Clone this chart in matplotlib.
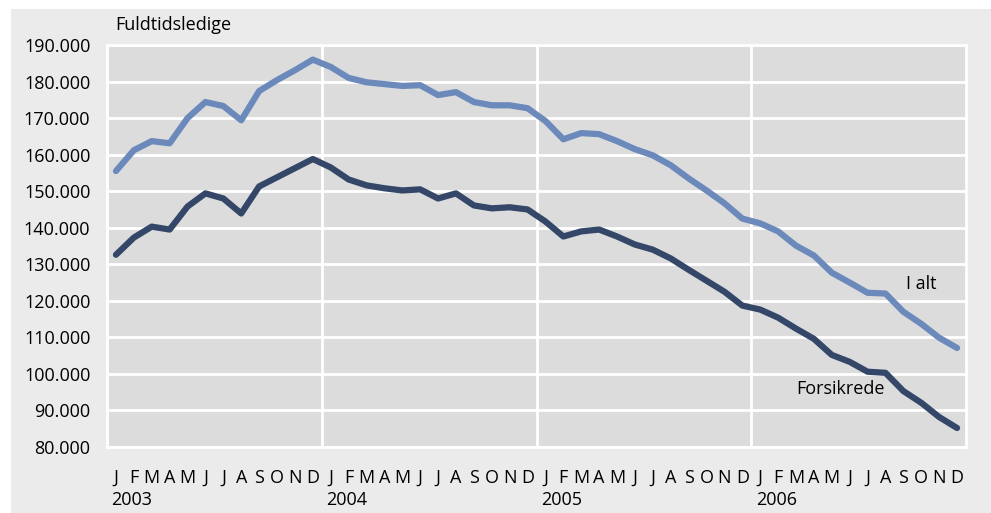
import matplotlib.pyplot as plt
import matplotlib.patches as patches
import numpy as np

plt.rcParams['font.family'] = ['Open Sans', 'DejaVu Sans']

months = ['J', 'F', 'M', 'A', 'M', 'J', 'J', 'A', 'S', 'O', 'N', 'D']
years = ['2003', '2004', '2005', '2006']

i_alt = [155.5, 161.2, 163.7, 163.1, 170.0, 174.4, 173.3, 169.4, 177.4, 180.4, 183.1, 186.0,
         184.0, 181.0, 179.8, 179.3, 178.8, 179.0, 176.3, 177.1, 174.4, 173.5, 173.5, 172.7,
         169.2, 164.2, 165.9, 165.6, 163.7, 161.5, 159.8, 157.1, 153.5, 150.2, 146.7, 142.5,
         141.2, 139.0, 135.1, 132.4, 127.7, 125.0, 122.2, 122.0, 117.0, 113.7, 109.9, 107.1]
forsikrede = [132.6, 137.3, 140.3, 139.5, 145.8, 149.4, 148.0, 143.9, 151.3, 153.8, 156.3, 158.8,
              156.5, 153.2, 151.6, 150.8, 150.2, 150.5, 148.0, 149.4, 146.1, 145.3, 145.6, 145.0,
              141.7, 137.6, 139.0, 139.5, 137.6, 135.4, 134.0, 131.6, 128.5, 125.5, 122.5, 118.7,
              117.6, 115.4, 112.4, 109.6, 105.2, 103.3, 100.6, 100.3, 95.3, 92.1, 88.2, 85.2]

W, H = 991, 513
fig = plt.figure(figsize=(W / 100, H / 100), dpi=100)
fig.patch.set_facecolor('white')
# gray panel behind everything
fig.add_artist(patches.Rectangle((11 / W, 0), 1, 1 - 9 / H, transform=fig.transFigure,
                                 facecolor='#ebebeb', edgecolor='none', zorder=0))

ax = fig.add_axes([107 / W, 1 - 447 / H, (966 - 107) / W, (447 - 45) / H])
ax.set_facecolor('#dcdcdc')

x = np.arange(len(i_alt))
ax.set_xlim(-0.5, len(i_alt) - 0.5)
ax.set_ylim(80, 190)

yt = np.arange(80, 191, 10)
ax.set_yticks(yt)
ax.set_yticklabels([f'{v:d}.000' for v in yt], fontsize=13)
for v in yt:
    ax.axhline(v, color='white', lw=2, zorder=1)
for b in [11.5, 23.5, 35.5]:
    ax.axvline(b, color='white', lw=2, zorder=1)

ax.plot(x, i_alt, color='#6b8abb', lw=4.5, solid_joinstyle='round', solid_capstyle='round', zorder=3)
ax.plot(x, forsikrede, color='#344769', lw=4.5, solid_joinstyle='round', solid_capstyle='round', zorder=3)

for s in ax.spines.values():
    s.set_color('white')
    s.set_linewidth(2)

ax.tick_params(axis='y', length=0, pad=12)
ax.set_xticks(x)
ax.set_xticklabels(months * 4, fontsize=13)
ax.tick_params(axis='x', length=0, pad=16)

for k, yr in enumerate(years):
    ax.text(12 * k - 0.25, -0.132, yr, transform=ax.get_xaxis_transform(),
            ha='left', va='center', fontsize=13)

fig.text(115 / W, 1 - 25 / H, 'Fuldtidsledige', fontsize=13, ha='left', va='center')

ax.text(45.0, 124.5, 'I alt', fontsize=13, ha='center', va='center')
ax.text(40.5, 95.8, 'Forsikrede', fontsize=13, ha='center', va='center')

fig.savefig('out.png', dpi=100, facecolor=fig.get_facecolor())
